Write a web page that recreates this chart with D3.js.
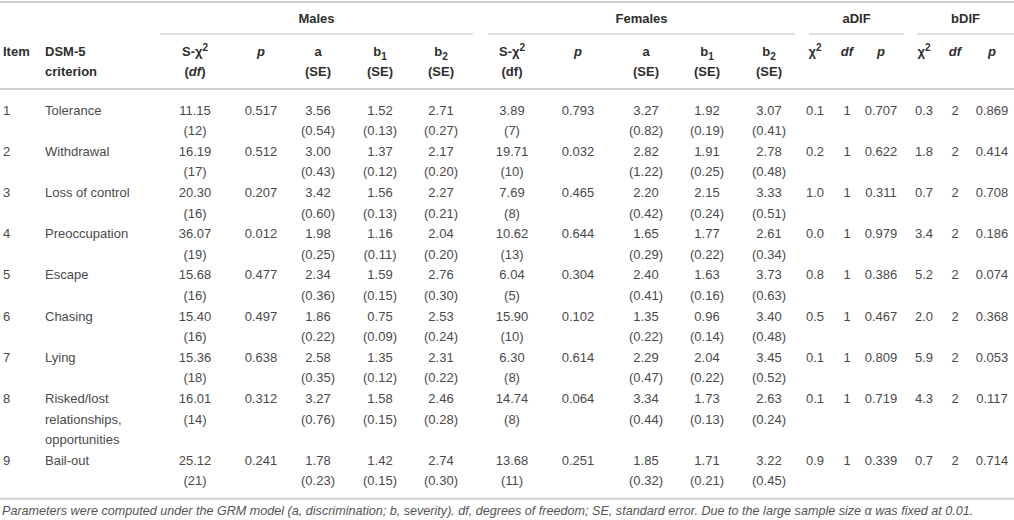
<!DOCTYPE html>
<html>
<meta charset="utf-8">
<head>
  <title>GRM item parameters and DIF by sex</title>
</head>

<style>
body { margin: 0; background: #fff; }
text {
  font-family: "Liberation Sans", Arial, sans-serif;
  font-size: 13px;
  fill: #4a4a4a;
}
.hd { font-weight: bold; fill: #2e2e2e; }
.rule { stroke: #cfcfcf; stroke-width: 2; }
.grp { stroke: #d4d4d4; stroke-width: 1.3; }
.note { font-style: italic; font-size: 12.6px; fill: #555; }
</style>

<body>
  <svg width="1014" height="520"></svg>

<script src="https://d3js.org/d3.v7.min.js"></script>
<script>
var width = 1014, height = 520

// table values
var items = [1, 2, 3, 4, 5, 6, 7, 8, 9]
var criteria = ["Tolerance", "Withdrawal", "Loss of control", "Preoccupation", "Escape",
  "Chasing", "Lying", "Risked/lost relationships, opportunities", "Bail-out"]

var maleChi = [11.15, 16.19, 20.30, 36.07, 15.68, 15.40, 15.36, 16.01, 25.12]
var maleDf = [12, 17, 16, 19, 16, 16, 18, 14, 21]
var maleP = [0.517, 0.512, 0.207, 0.012, 0.477, 0.497, 0.638, 0.312, 0.241]
var maleA = [3.56, 3.00, 3.42, 1.98, 2.34, 1.86, 2.58, 3.27, 1.78]
var maleASE = [0.54, 0.43, 0.60, 0.25, 0.36, 0.22, 0.35, 0.76, 0.23]
var maleB1 = [1.52, 1.37, 1.56, 1.16, 1.59, 0.75, 1.35, 1.58, 1.42]
var maleB1SE = [0.13, 0.12, 0.13, 0.11, 0.15, 0.09, 0.12, 0.15, 0.15]
var maleB2 = [2.71, 2.17, 2.27, 2.04, 2.76, 2.53, 2.31, 2.46, 2.74]
var maleB2SE = [0.27, 0.20, 0.21, 0.20, 0.30, 0.24, 0.22, 0.28, 0.30]

var femChi = [3.89, 19.71, 7.69, 10.62, 6.04, 15.90, 6.30, 14.74, 13.68]
var femDf = [7, 10, 8, 13, 5, 10, 8, 8, 11]
var femP = [0.793, 0.032, 0.465, 0.644, 0.304, 0.102, 0.614, 0.064, 0.251]
var femA = [3.27, 2.82, 2.20, 1.65, 2.40, 1.35, 2.29, 3.34, 1.85]
var femASE = [0.82, 1.22, 0.42, 0.29, 0.41, 0.22, 0.47, 0.44, 0.32]
var femB1 = [1.92, 1.91, 2.15, 1.77, 1.63, 0.96, 2.04, 1.73, 1.71]
var femB1SE = [0.19, 0.25, 0.24, 0.22, 0.16, 0.14, 0.22, 0.13, 0.21]
var femB2 = [3.07, 2.78, 3.33, 2.61, 3.73, 3.40, 3.45, 2.63, 3.22]
var femB2SE = [0.41, 0.48, 0.51, 0.34, 0.63, 0.48, 0.52, 0.24, 0.45]

var aDifChi = [0.1, 0.2, 1.0, 0.0, 0.8, 0.5, 0.1, 0.1, 0.9]
var aDifDf = [1, 1, 1, 1, 1, 1, 1, 1, 1]
var aDifP = [0.707, 0.622, 0.311, 0.979, 0.386, 0.467, 0.809, 0.719, 0.339]
var bDifChi = [0.3, 1.8, 0.7, 3.4, 5.2, 2.0, 5.9, 4.3, 0.7]
var bDifDf = [2, 2, 2, 2, 2, 2, 2, 2, 2]
var bDifP = [0.869, 0.414, 0.708, 0.186, 0.074, 0.368, 0.053, 0.117, 0.714]

var groups = ["Males", "Females", "aDIF", "bDIF"]
var note = "Parameters were computed under the GRM model (a, discrimination; b, severity). df, degrees of freedom; SE, standard error. Due to the large sample size \u03b1 was fixed at 0.01."

// layout
var colKeys = ["item", "crit", "mChi", "mP", "mA", "mB1", "mB2", "fChi", "fP", "fA", "fB1", "fB2",
  "aChi", "aDf", "aP", "bChi", "bDf", "bP"]
var x = d3.scaleOrdinal()
  .domain(colKeys)
  .range([3, 45, 195, 261, 318, 380, 441, 512, 578, 646, 707, 769, 815, 847, 881, 924, 955, 992])
var groupSpan = d3.scaleOrdinal().domain(groups)
  .range([[160, 473], [488, 795], [809, 904], [917, 1014]])

var svg = d3.select('svg')

var f = function(n) { return function(v) { return v.toFixed(n) } }
var se = function(v) { return '(' + v.toFixed(2) + ')' }
var par = function(v) { return '(' + v + ')' }

// body columns: key, main values, formatter, second-line values, formatter
var cols = [
  ["mChi", maleChi, f(2), maleDf, par], ["mP", maleP, f(3)],
  ["mA", maleA, f(2), maleASE, se], ["mB1", maleB1, f(2), maleB1SE, se], ["mB2", maleB2, f(2), maleB2SE, se],
  ["fChi", femChi, f(2), femDf, par], ["fP", femP, f(3)],
  ["fA", femA, f(2), femASE, se], ["fB1", femB1, f(2), femB1SE, se], ["fB2", femB2, f(2), femB2SE, se],
  ["aChi", aDifChi, f(1)], ["aDf", aDifDf, String], ["aP", aDifP, f(3)],
  ["bChi", bDifChi, f(1)], ["bDf", bDifDf, String], ["bP", bDifP, f(3)]
]

// header lines
var hy = d3.scaleLinear().domain([0, 1]).range([56, 75.5])

// header segments: [text, style]  style: i italic, sup, sub
var headers = [
  ["mChi", [[["S-\u03c7"], ["2", "sup"]], [["("], ["df", "i"], [")"]]]],
  ["mP", [[["p", "i"]]]],
  ["mA", [[["a"]], [["(SE)"]]]],
  ["mB1", [[["b"], ["1", "sub"]], [["(SE)"]]]],
  ["mB2", [[["b"], ["2", "sub"]], [["(SE)"]]]],
  ["fChi", [[["S-\u03c7"], ["2", "sup"]], [["(df)"]]]],
  ["fP", [[["p", "i"]]]],
  ["fA", [[["a"]], [["(SE)"]]]],
  ["fB1", [[["b"], ["1", "sub"]], [["(SE)"]]]],
  ["fB2", [[["b"], ["2", "sub"]], [["(SE)"]]]],
  ["aChi", [[["\u03c7"], ["2", "sup"]]]],
  ["aDf", [[["df", "i"]]]],
  ["aP", [[["p", "i"]]]],
  ["bChi", [[["\u03c7"], ["2", "sup"]]]],
  ["bDf", [[["df", "i"]]]],
  ["bP", [[["p", "i"]]]]
]

function addSegments(t, segs) {
  var shift = 0
  segs.forEach(function(s) {
    var ts = t.append('tspan').text(s[0])
    var want = s[1] === 'sup' ? -5 : s[1] === 'sub' ? 4 : 0
    ts.attr('dy', want - shift)
    shift = want
    if (s[1] === 'sup' || s[1] === 'sub') ts.style('font-size', '10px')
    if (s[1] === 'i') ts.style('font-style', 'italic')
  })
}

// rules
svg.append('line').attr('class', 'rule').attr('x1', 0).attr('x2', width).attr('y1', 2).attr('y2', 2)
svg.append('line').attr('class', 'rule').attr('x1', 0).attr('x2', width).attr('y1', 89).attr('y2', 89)

// group headings
svg.selectAll('.gname').data(groups).enter()
  .append('text').attr('class', 'hd gname')
  .attr('x', function(d) { var s = groupSpan(d); return (s[0] + s[1]) / 2 })
  .attr('y', 23)
  .attr('text-anchor', 'middle')
  .text(function(d) { return d })
svg.selectAll('.grp').data(groups).enter()
  .append('line').attr('class', 'grp')
  .attr('x1', function(d) { return groupSpan(d)[0] })
  .attr('x2', function(d) { return groupSpan(d)[1] })
  .attr('y1', 34).attr('y2', 34)

// column headings
svg.append('text').attr('class', 'hd').attr('x', x('item')).attr('y', hy(0)).text('Item')
svg.append('text').attr('class', 'hd').attr('x', x('crit')).attr('y', hy(0)).text('DSM-5')
svg.append('text').attr('class', 'hd').attr('x', x('crit')).attr('y', hy(1)).text('criterion')

headers.forEach(function(h) {
  h[1].forEach(function(line, i) {
    var t = svg.append('text').attr('class', 'hd')
      .attr('x', x(h[0])).attr('y', hy(i)).attr('text-anchor', 'middle')
    addSegments(t, line)
  })
})

// wrap criterion names to a fixed width
var probe = svg.append('text')
function wrap(s, w) {
  var words = s.split(' '), lines = [], cur = ''
  words.forEach(function(wd) {
    var tryS = cur ? cur + ' ' + wd : wd
    probe.text(tryS)
    if (cur && probe.node().getComputedTextLength() > w) { lines.push(cur); cur = wd }
    else cur = tryS
  })
  lines.push(cur)
  return lines
}
var critLines = criteria.map(function(c) { return wrap(c, 105) })
probe.remove()

// line index where each row starts
var start = [], acc = 0
critLines.forEach(function(l) { start.push(acc); acc += Math.max(2, l.length) })
var ly = d3.scaleLinear().domain([0, 1]).range([114.5, 135.1])

var rows = svg.selectAll('.row').data(items).enter()
  .append('g').attr('class', 'row')

rows.append('text').attr('x', x('item'))
  .attr('y', function(d, i) { return ly(start[i]) })
  .text(function(d) { return d })

rows.each(function(d, i) {
  var g = d3.select(this)
  critLines[i].forEach(function(l, k) {
    g.append('text').attr('x', x('crit')).attr('y', ly(start[i] + k)).text(l)
  })
  cols.forEach(function(c) {
    g.append('text').attr('x', x(c[0])).attr('y', ly(start[i]))
      .attr('text-anchor', 'middle').text(c[2](c[1][i]))
    if (c[3]) {
      g.append('text').attr('x', x(c[0])).attr('y', ly(start[i] + 1))
        .attr('text-anchor', 'middle').text(c[4](c[3][i]))
    }
  })
})

var bottom = ly(acc - 1) + 13.5
svg.append('line').attr('class', 'rule').attr('x1', 0).attr('x2', width).attr('y1', bottom).attr('y2', bottom)

svg.append('text').attr('class', 'note').attr('x', 2).attr('y', bottom + 16).text(note)
</script>
</body>
</html>
